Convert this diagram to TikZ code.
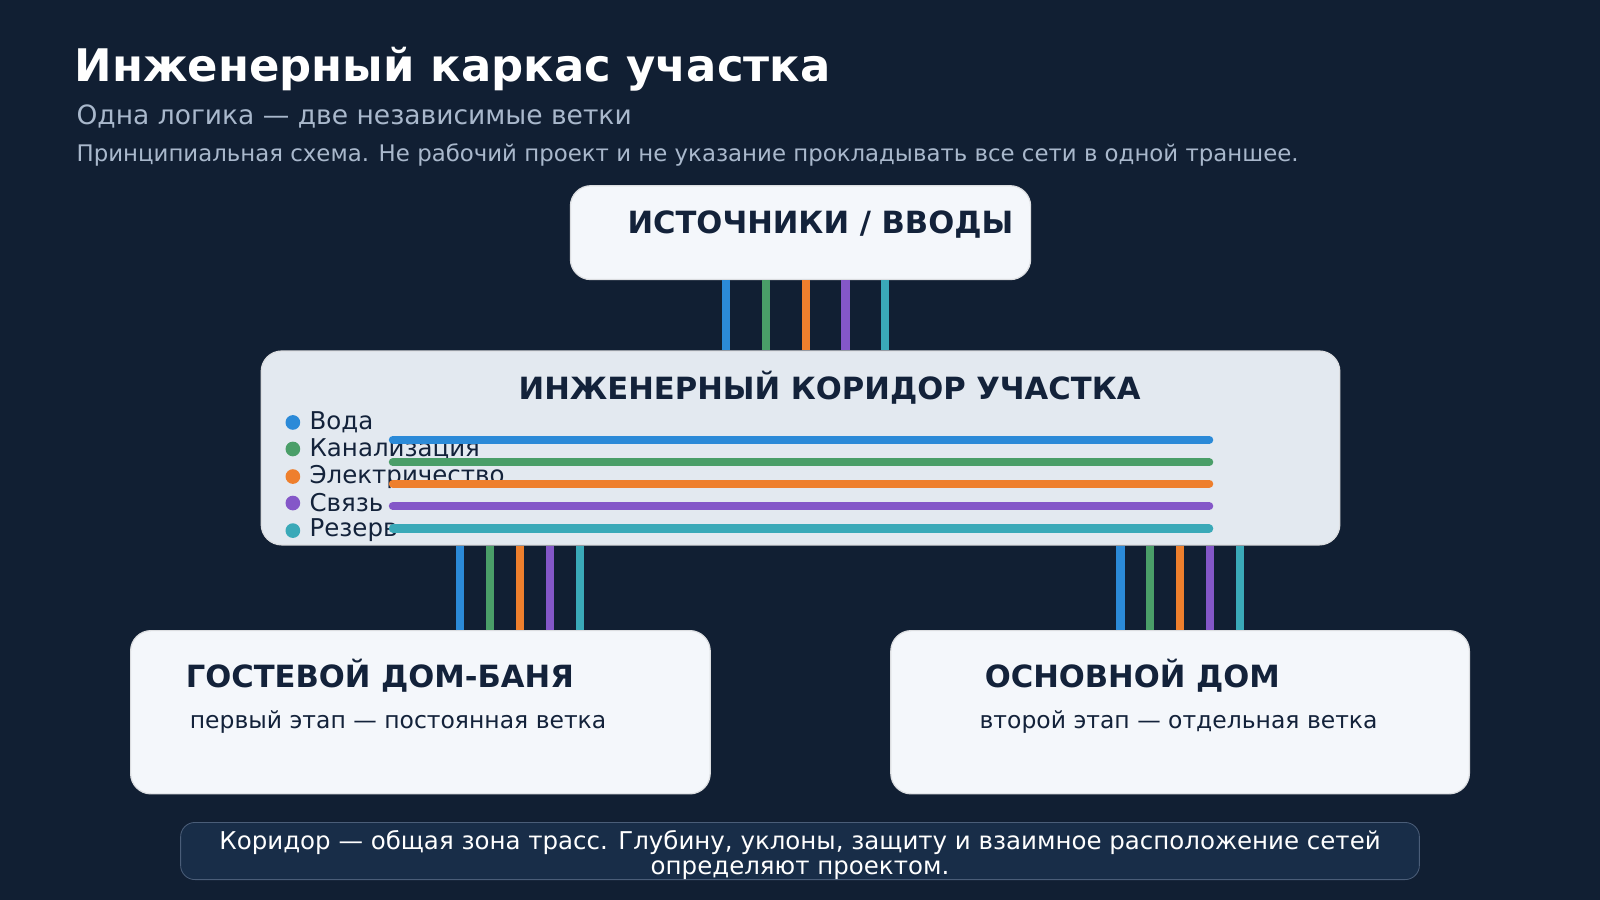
\documentclass[tikz,border=0pt]{standalone}
\usepackage{fontspec}
\setmainfont{DejaVu Sans}
\usetikzlibrary{calc}
\definecolor{bg}{HTML}{111F33}
\definecolor{ink}{HTML}{13223A}
\definecolor{boxfill}{HTML}{F4F7FB}
\definecolor{corfill}{HTML}{E3E9F0}
\definecolor{notefill}{HTML}{182D48}
\definecolor{noteline}{HTML}{4A5D78}
\definecolor{subtxt}{HTML}{A9B8CC}
\definecolor{cwater}{HTML}{2B8AD8}
\definecolor{csewer}{HTML}{4A9E68}
\definecolor{cpower}{HTML}{EE7F2D}
\definecolor{ccomm}{HTML}{8457C8}
\definecolor{cspare}{HTML}{3AA9B8}
\tikzset{
  box/.style={draw=white!85!ink,line width=0.6pt,rounded corners=10pt,fill=boxfill,inner sep=0pt},
  head/.style={font=\bfseries\fontsize{15}{17}\selectfont,text=ink},
  pipe/.style={line width=4pt,line cap=round},
}
\begin{document}
\begin{tikzpicture}[x=0.5pt,y=-0.5pt]
  \fill[bg] (0,0) rectangle (1568,882);
  % titles
  \node[anchor=west,text=white,font=\bfseries\fontsize{22}{24}\selectfont] (title) at (66,68) {Инженерный каркас участка};
  \node[anchor=west,text=subtxt,font=\fontsize{13}{15}\selectfont] (sub) at (68,114) {Одна логика — две независимые ветки};
  \node[anchor=west,text=subtxt,font=\fontsize{11.2}{13}\selectfont] (disc) at (68,152) {Принципиальная схема. Не рабочий проект и не указание прокладывать все сети в одной траншее.};
  % boxes
  \node[box,minimum width=225.5pt,minimum height=46pt] (src) at (784.5,228) {};
  \node[head] at (804,220) {ИСТОЧНИКИ / ВВОДЫ};
  \node[box,fill=corfill,minimum width=528.5pt,minimum height=95pt] (corridor) at (784.5,439) {};
  \node[head] at (813,380) {ИНЖЕНЕРНЫЙ КОРИДОР УЧАСТКА};
  \node[box,minimum width=284pt,minimum height=80pt] (guest) at (412,698) {};
  \node[head,anchor=west] at (175,662) {ГОСТЕВОЙ ДОМ-БАНЯ};
  \node[anchor=west,text=ink,font=\fontsize{11.5}{13}\selectfont] at (179,708) {первый этап — постоянная ветка};
  \node[box,minimum width=283.5pt,minimum height=80pt] (house) at (1156.5,698) {};
  \node[head,anchor=west] at (958,662) {ОСНОВНОЙ ДОМ};
  \node[anchor=west,text=ink,font=\fontsize{11.5}{13}\selectfont] at (953,708) {второй этап — отдельная ветка};
  \node[draw=noteline,fill=notefill,rounded corners=7pt,minimum width=607pt,minimum height=28pt,inner sep=0pt] (note) at (784,834) {};
  \node[text=white,align=center,font=\fontsize{12}{12.5}\selectfont] at (784,838) {Коридор — общая зона трасс. Глубину, уклоны, защиту и взаимное расположение сетей\\определяют проектом.};
  % legend and horizontal pipes
  \foreach \c/\t/\y [count=\i] in {cwater/Вода/414,csewer/Канализация/440,cpower/Электричество/467,ccomm/Связь/493,cspare/Резерв/520}{
    \fill[\c] (287,\y) circle (3.6pt);
    \node[anchor=west,text=ink,font=\fontsize{12}{14}\selectfont,inner sep=0pt] (lg\i) at (303,\y) {\t};
  }
  \foreach \c/\y in {cwater/431,csewer/453,cpower/474,ccomm/496,cspare/518}
    \draw[pipe,\c] (385,\y) -- (1185,\y);
  % vertical feeds
  \foreach \c/\dx [count=\i] in {cwater/-73,csewer/-34,cpower/5,ccomm/44,cspare/83}{
    \coordinate (s\i) at ($(src.south)+(\dx,0)$);
    \draw[pipe,line cap=butt,\c] (s\i) -- (s\i |- corridor.north);
  }
  \foreach \c/\dx [count=\i] in {cwater/39,csewer/68,cpower/98,ccomm/127,cspare/156}{
    \coordinate (g\i) at ($(guest.north)+(\dx,0)$);
    \draw[pipe,line cap=butt,\c] (g\i) -- (g\i |- corridor.south);
  }
  \foreach \c/\dx [count=\i] in {cwater/-58.5,csewer/-29.5,cpower/-0.5,ccomm/29.5,cspare/58.5}{
    \coordinate (h\i) at ($(house.north)+(\dx,0)$);
    \draw[pipe,line cap=butt,\c] (h\i) -- (h\i |- corridor.south);
  }
\end{tikzpicture}
\end{document}
